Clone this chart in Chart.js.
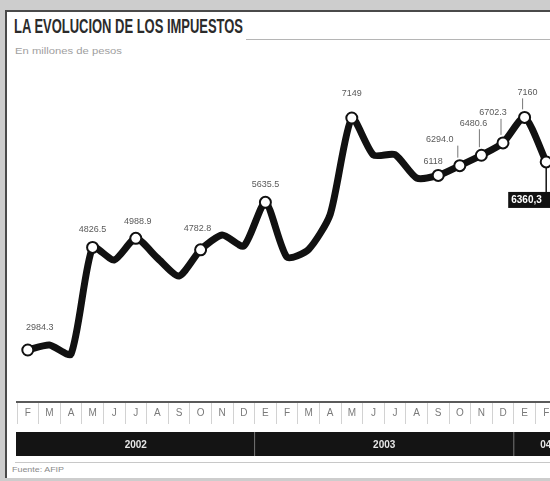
<!DOCTYPE html>
<html>
<head>
<meta charset="utf-8">
<script src="https://cdn.jsdelivr.net/npm/chart.js@4.4.1/dist/chart.umd.min.js"></script>
<style>
  body { margin: 0; width: 550px; height: 481px; overflow: hidden; background: #cdcdcd; position: relative; font-family: "Liberation Sans", sans-serif; }
  #panel { position: absolute; left: 5px; top: 10px; width: 620px; height: 466px; background: #fff; border-left: 2px solid #4a4a4a; border-top: 2px solid #4a4a4a; }
  .txt { position: absolute; white-space: nowrap; transform-origin: 0 0; }
  #title { left: 14px; top: 15px; font: bold 20px "Liberation Sans Narrow", sans-serif; color: #2b2b2b; }
  #subtitle { left: 15px; top: 46px; font: 9px "Liberation Sans", sans-serif; color: #a0a0a0; }
  #source { left: 12px; top: 465px; font: 8px "Liberation Sans", sans-serif; color: #8a8a8a; }
  #rule1 { position: absolute; left: 246px; top: 39px; width: 320px; height: 1px; background: #b5b5b5; }
  #rule2 { position: absolute; left: 15px; top: 462px; width: 560px; height: 1px; background: #c8c8c8; }
  #c { position: absolute; left: 0; top: 0; }
</style>
</head>
<body>
<div id="panel"></div>
<div id="rule1"></div>
<div id="rule2"></div>
<div class="txt" id="title" data-w="229">LA EVOLUCION DE LOS IMPUESTOS</div>
<div class="txt" id="subtitle" data-w="107">En millones de pesos</div>
<div class="txt" id="source" data-w="52">Fuente: AFIP</div>
<canvas id="c" width="580" height="481"></canvas>
<script>
var months = ['F','M','A','M','J','J','A','S','O','N','D','E','F','M','A','M','J','J','A','S','O','N','D','E','F'];
var recaudacion = [2984.3, 3074, 2912, 4826.5, 4600, 4988.9, 4636, 4313, 4782.8, 5049, 4851, 5635.5,
                   4650, 4790, 5420, 7149, 6485, 6490, 6072, 6118, 6294.0, 6480.6, 6702.3, 7160, 6360.3];
var valueLabels = ['2984.3', '', '', '4826.5', '', '4988.9', '', '', '4782.8', '', '', '5635.5',
                   '', '', '', '7149', '', '', '', '6118', '6294.0', '6480.6', '6702.3', '7160', '6360,3'];
var years = ['2002', '2003', '04'];
var yearStart = [0, 11, 23];

// fit the html texts to the widths in the paper
document.querySelectorAll('.txt').forEach(function (el) {
    var w = el.getBoundingClientRect().width;
    el.style.transform = 'scaleX(' + (el.dataset.w / w) + ')';
});

var labelOffsets = {
    0: [12, -22], 3: [0, -18], 5: [2, -17], 8: [-3, -21], 11: [0, -18], 15: [0, -24],
    19: [-5, -14], 20: [-20, -26], 21: [-8, -32], 22: [-10, -30], 23: [3, -25]
};

var paperDecor = {
    id: 'paperDecor',
    afterDatasetsDraw: function (chart) {
        var ctx = chart.ctx;
        var meta = chart.getDatasetMeta(0);
        ctx.save();
        ctx.font = '9px "Liberation Sans Narrow", sans-serif';
        ctx.fillStyle = '#5a5a5a';
        ctx.textAlign = 'center';
        ctx.textBaseline = 'middle';
        valueLabels.forEach(function (lab, i) {
            if (!lab || !labelOffsets[i]) return;
            var p = meta.data[i];
            var o = labelOffsets[i];
            ctx.fillText(lab, p.x + o[0], p.y + o[1]);
            if (i >= 20) {
                ctx.strokeStyle = '#777';
                ctx.lineWidth = 1;
                ctx.beginPath();
                ctx.moveTo(p.x - 2, p.y + o[1] + 6);
                ctx.lineTo(p.x - 2, p.y - 8);
                ctx.stroke();
            }
        });
        // last value in black box
        var last = meta.data[24];
        ctx.strokeStyle = '#111';
        ctx.lineWidth = 1.5;
        ctx.beginPath();
        ctx.moveTo(last.x, last.y + 6);
        ctx.lineTo(last.x, last.y + 30);
        ctx.stroke();
        ctx.fillStyle = '#111';
        ctx.fillRect(last.x - 38, last.y + 30, 60, 16);
        ctx.fillStyle = '#fff';
        ctx.font = 'bold 10px "Liberation Sans", sans-serif';
        ctx.textAlign = 'left';
        ctx.fillText(valueLabels[24], last.x - 35, last.y + 38);
        ctx.restore();
    },
    afterDraw: function (chart) {
        var ctx = chart.ctx;
        var x = chart.scales.x;
        var half = (x.getPixelForValue(1) - x.getPixelForValue(0)) / 2;
        var top = 432, h = 24;
        ctx.save();
        ctx.fillStyle = '#141414';
        ctx.fillRect(x.left - 1, top, x.right - x.left + 2, h);
        ctx.font = 'bold 10px "Liberation Sans", sans-serif';
        ctx.textAlign = 'center';
        ctx.textBaseline = 'middle';
        years.forEach(function (yr, k) {
            var a = x.getPixelForValue(yearStart[k]) - half;
            var b = k < years.length - 1 ? x.getPixelForValue(yearStart[k + 1]) - half : a + 64;
            if (k > 0) {
                ctx.strokeStyle = '#777';
                ctx.lineWidth = 1;
                ctx.beginPath();
                ctx.moveTo(a, top);
                ctx.lineTo(a, top + h);
                ctx.stroke();
            }
            ctx.fillStyle = '#e6e6e6';
            ctx.fillText(yr, (a + b) / 2, top + h / 2 + 1);
        });
        ctx.restore();
    }
};

new Chart(document.getElementById('c'), {
    type: 'line',
    data: {
        labels: months,
        datasets: [{
            data: recaudacion,
            borderColor: '#111',
            borderWidth: 7,
            tension: 0.22,
            pointRadius: valueLabels.map(function (l) { return l ? 5.5 : 0; }),
            pointBackgroundColor: '#fff',
            pointBorderColor: '#111',
            pointBorderWidth: 2
        }]
    },
    options: {
        responsive: false,
        animation: false,
        devicePixelRatio: 1,
        layout: { padding: { left: 17, right: 23, top: 80, bottom: 0 } },
        plugins: { legend: { display: false }, tooltip: { enabled: false } },
        scales: {
            x: {
                offset: true,
                grid: { offset: true, drawOnChartArea: false, tickLength: 22, color: '#d2d2d2' },
                border: { display: true, color: '#5a5a5a', width: 2 },
                ticks: { padding: -17, color: '#7a7a7a', font: { size: 10, family: 'Liberation Sans' }, maxRotation: 0, autoSkip: false },
                afterFit: function (s) { s.height = 79; }
            },
            y: { display: false, min: 2051, max: 7831 }
        }
    },
    plugins: [paperDecor]
});
</script>
</body>
</html>
